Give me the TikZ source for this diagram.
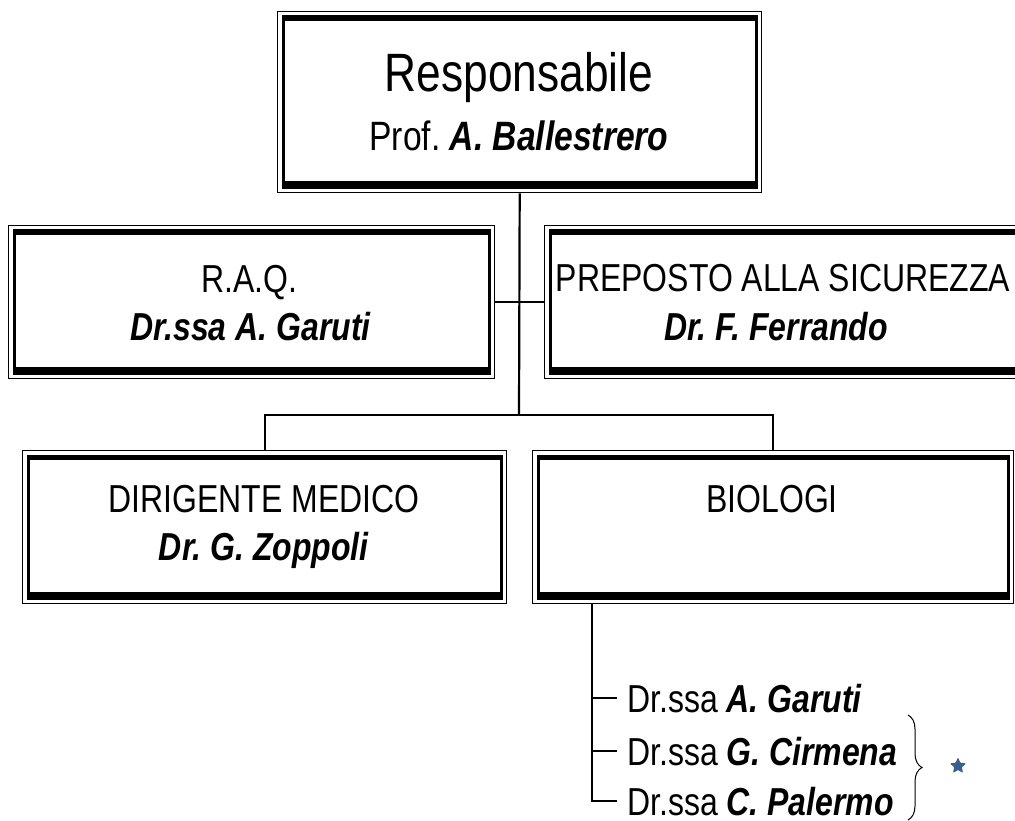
\documentclass[tikz,border=0pt]{standalone}
\usepackage{fontspec}
\setmainfont{Liberation Sans}[FakeStretch=0.82]
\usetikzlibrary{shapes.geometric,decorations.pathreplacing}
\newcommand\bolditalic[1]{\textbf{\textit{#1}}}
\newcommand\triframe[1]{%
  \draw[line width=3pt] ([shift={(6,6)}]#1.north west) rectangle ([shift={(-6,-6)}]#1.south east);
  \fill ([shift={(4.5,5.5)}]#1.north west) rectangle ([shift={(-4.5,10)}]#1.north east);
  \fill ([shift={(4.5,-5)}]#1.south west) rectangle ([shift={(-4.5,-12)}]#1.south east);
}
\definecolor{starblue}{HTML}{3B5E8C}
\frenchspacing
\begin{document}
\begin{tikzpicture}[x=1pt,y=-1pt,
  outerbox/.style={draw,line width=1.4pt,inner sep=0pt,anchor=north west},
  conn/.style={line width=2.2pt},
  txt/.style={anchor=base,inner sep=0pt,font=\fontsize{39}{47}\selectfont},
  listtxt/.style={anchor=base west,inner sep=0pt,font=\fontsize{39}{47}\selectfont},
  ]
\useasboundingbox (0,0) rectangle (1015,821);
\clip (0,0) rectangle (1015,821);
% boxes
\node[outerbox,minimum width=484pt,minimum height=181pt] (top) at (277,11) {};
\node[outerbox,minimum width=486pt,minimum height=153pt] (raq) at (8,225) {};
\node[outerbox,minimum width=484pt,minimum height=153pt] (prep) at (544,225) {};
\node[outerbox,minimum width=484pt,minimum height=153pt] (dir) at (22,450) {};
\node[outerbox,minimum width=481pt,minimum height=153pt] (bio) at (532,450) {};
\foreach \b in {top,raq,prep,dir,bio} {\triframe{\b}}
% texts
\node[txt,font=\fontsize{54}{60}\selectfont] (t1) at (519,92) {Responsabile};
\node[txt,font=\fontsize{41}{48}\selectfont] (t2) at (519,151) {Prof. \bolditalic{A. Ballestrero}};
\node[txt] (r1) at (249,292) {R.A.Q.};
\node[txt] (r2) at (251,340) {\bolditalic{Dr.ssa A. Garuti}};
\node[txt] (p1) at (783,291) {PREPOSTO ALLA SICUREZZA};
\node[txt] (p2) at (776,340) {\bolditalic{Dr. F. Ferrando}};
\node[txt] (d1) at (264,512) {DIRIGENTE MEDICO};
\node[txt] (d2) at (264,560) {\bolditalic{Dr. G. Zoppoli}};
\node[txt] (b1) at (772,512) {BIOLOGI};
\node[listtxt] (l1) at (627,712) {Dr.ssa \bolditalic{A. Garuti}};
\node[listtxt] (l2) at (627,765) {Dr.ssa \bolditalic{G. Cirmena}};
\node[listtxt] (l3) at (627,815) {Dr.ssa \bolditalic{C. Palermo}};
% connectors
\coordinate (bar) at (519,415);
\draw[conn] (top.south) -- (bar);
\draw[conn] (raq.east) -- (prep.west);
\draw[conn] (dir.north) -- (dir.north |- bar) -- (bio.north |- bar) -- (bio.north);
\coordinate (vtop) at ([xshift=60pt]bio.south west);
\draw[conn] (vtop) |- ([xshift=-10pt,yshift=14pt]l3.base west);
\draw[conn] (vtop |- l1.base) ++(0,-14) -- ([xshift=-10pt,yshift=14pt]l1.base west);
\draw[conn] (vtop |- l2.base) ++(0,-14) -- ([xshift=-10pt,yshift=14pt]l2.base west);
% brace and mark
\coordinate (br1) at (908,715);
\coordinate (br2) at (908,820);
\draw[line width=1pt,decorate,decoration={brace,amplitude=14pt}] (br1) -- (br2);
\node[star,star points=5,star point ratio=2.1,fill=starblue,minimum size=17pt,inner sep=0pt,rounded corners=0.8pt] (flower) at (958,766) {};
\end{tikzpicture}
\end{document}
